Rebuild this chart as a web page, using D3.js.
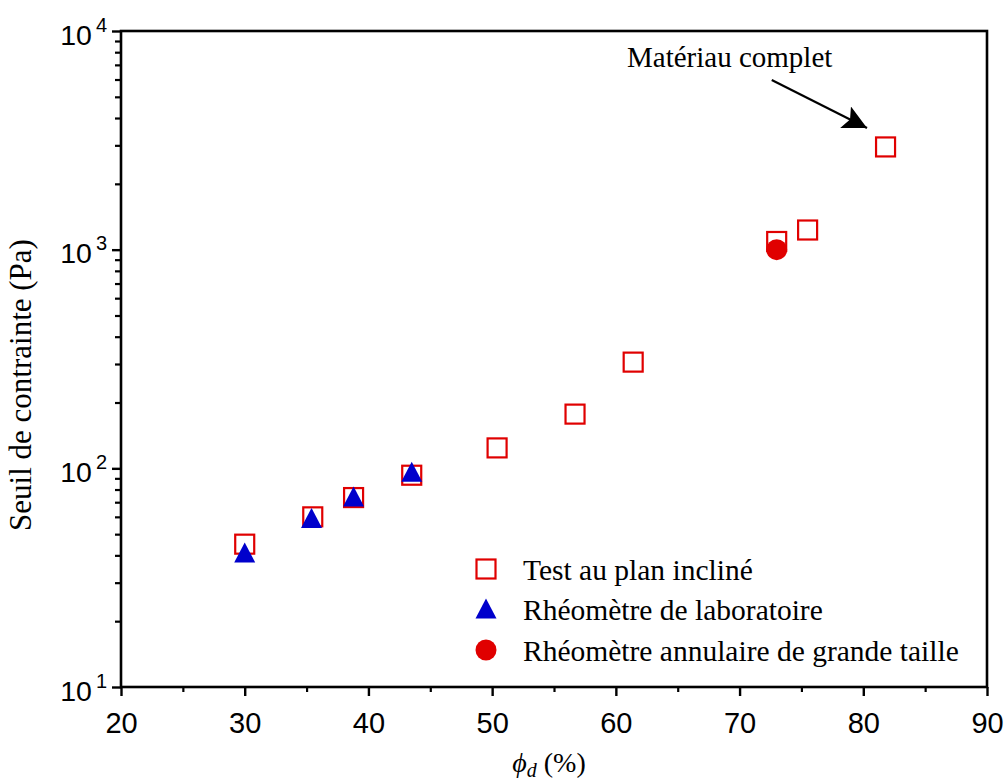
<!DOCTYPE html>
<html><head><meta charset="utf-8">
<script src="https://cdn.jsdelivr.net/npm/d3@7"></script>
<style>body{margin:0;background:#fff}</style>
</head><body>
<svg id="chart" width="1005" height="780"></svg>
<script>
// ---- data ----
const seriesNames = ["Test au plan incliné", "Rhéomètre de laboratoire", "Rhéomètre annulaire de grande taille"];
const planPhi = [30, 35.5, 38.8, 43.5, 50.4, 56.7, 61.4, 73, 75.5, 81.8];
const planTau = [45, 60, 73.5, 93, 124, 177, 306, 1090, 1230, 2950];
const laboPhi = [30, 35.4, 38.8, 43.5];
const laboTau = [41, 59, 74, 96];
const annPhi = [73];
const annTau = [1000];
const xTicks = [20, 30, 40, 50, 60, 70, 80, 90];
const xMinorTicks = [25, 35, 45, 55, 65, 75, 85];
const yTickExps = [1, 2, 3, 4];
const annotText = "Matériau complet";
const annotTextAt = [60.9, 6840];
const annotArrowFrom = [72.6, 5970];
const annotArrowTo = [80.3, 3600];
const yTitle = "Seuil de contrainte (Pa)";

// ---- layout ----
const L = 121, R = 987, T = 31, B = 687;
const svg = d3.select("#chart");
const x = d3.scaleLinear().domain([20, 90]).range([L, R]);
const y = d3.scaleLog().domain([10, 10000]).range([B, T]);

const red = "#e00000", blue = "#0000cc";
const sansFont = "Liberation Sans, Arial, sans-serif";
const serifFont = "Liberation Serif, Times New Roman, serif";

// frame
svg.append("rect").attr("x", L).attr("y", T).attr("width", R - L).attr("height", B - T)
  .attr("fill", "none").attr("stroke", "#000").attr("stroke-width", 2.6);

// y axis minor ticks
const yMinor = [];
for (let e = 1; e < 4; e++) for (let k = 2; k <= 9; k++) yMinor.push(k * Math.pow(10, e));
svg.append("g").attr("transform", `translate(${L},0)`)
  .call(d3.axisLeft(y).tickValues(yMinor).tickSize(6).tickFormat(""))
  .call(g => { g.select(".domain").remove(); g.selectAll("line").attr("stroke-width", 2.2); });

// y axis major ticks
const yMajor = yTickExps.map(e => Math.pow(10, e));
const yAx = svg.append("g").attr("transform", `translate(${L},0)`)
  .call(d3.axisLeft(y).tickValues(yMajor).tickSize(9).tickFormat(""))
  .call(g => { g.select(".domain").remove(); g.selectAll("line").attr("stroke-width", 2.4); });
yAx.selectAll(".tick").each(function(d, i) {
  const t = d3.select(this).append("text")
    .attr("x", -14).attr("y", 13).attr("text-anchor", "end")
    .attr("fill", "#000").attr("font-family", sansFont).attr("font-size", 28.5);
  t.append("tspan").text("10");
  t.append("tspan").attr("dx", 4).attr("dy", -13).attr("font-size", 20).text(String(yTickExps[i]));
});

// x axis minor ticks
svg.append("g").attr("transform", `translate(0,${B})`)
  .call(d3.axisBottom(x).tickValues(xMinorTicks).tickSize(5).tickFormat(""))
  .call(g => { g.select(".domain").remove(); g.selectAll("line").attr("stroke-width", 2.2); });
// x axis major ticks
svg.append("g").attr("transform", `translate(0,${B})`)
  .call(d3.axisBottom(x).tickValues(xTicks).tickSize(9).tickFormat(d3.format("d")).tickPadding(16))
  .call(g => {
    g.select(".domain").remove();
    g.selectAll("line").attr("stroke-width", 2.4);
    g.selectAll("text").attr("font-family", sansFont).attr("font-size", 29).attr("fill", "#000")
      .attr("dy", 0).attr("y", 46);
  });

// y title
svg.append("text")
  .attr("transform", `translate(31,${385}) rotate(-90)`)
  .attr("text-anchor", "middle").attr("font-family", serifFont).attr("font-size", 31)
  .attr("fill", "#000").text(yTitle);

// x title
const xt = svg.append("text").attr("x", 549).attr("y", 772).attr("text-anchor", "middle")
  .attr("font-family", serifFont).attr("font-size", 28).attr("fill", "#000");
xt.append("tspan").attr("font-style", "italic").text("\u03D5");
xt.append("tspan").attr("font-style", "italic").attr("font-size", 20).attr("dy", 5).text("d");
xt.append("tspan").attr("dy", -5).text(" (%)");

// data: squares
const sq = 19;
svg.append("g").selectAll("rect").data(planPhi.map((p, i) => [p, planTau[i]])).join("rect")
  .attr("x", d => x(d[0]) - sq / 2).attr("y", d => y(d[1]) - sq / 2)
  .attr("width", sq).attr("height", sq)
  .attr("fill", "none").attr("stroke", red).attr("stroke-width", 2.2);

// triangles
const tri = "M0,-10.5L10.5,9.5L-10.5,9.5Z";
svg.append("g").selectAll("path").data(laboPhi.map((p, i) => [p, laboTau[i]])).join("path")
  .attr("d", tri).attr("transform", d => `translate(${x(d[0])},${y(d[1])})`).attr("fill", blue);

// circles
svg.append("g").selectAll("circle").data(annPhi.map((p, i) => [p, annTau[i]])).join("circle")
  .attr("cx", d => x(d[0])).attr("cy", d => y(d[1])).attr("r", 10.5).attr("fill", red);

// legend
const legX = 486, legTextX = 523, legY = [569, 609, 650];
const lg = svg.append("g");
lg.append("rect").attr("x", legX - sq / 2).attr("y", legY[0] - sq / 2).attr("width", sq).attr("height", sq)
  .attr("fill", "none").attr("stroke", red).attr("stroke-width", 2.2);
lg.append("path").attr("d", tri).attr("transform", `translate(${legX},${legY[1]})`).attr("fill", blue);
lg.append("circle").attr("cx", legX).attr("cy", legY[2]).attr("r", 10.5).attr("fill", red);
lg.selectAll("text").data(seriesNames).join("text")
  .attr("x", legTextX).attr("y", (d, i) => legY[i] + 11)
  .attr("font-family", serifFont).attr("font-size", 29.5).attr("fill", "#000").text(d => d);

// annotation
svg.append("defs").append("marker").attr("id", "ah")
  .attr("markerUnits", "userSpaceOnUse").attr("markerWidth", 28).attr("markerHeight", 26)
  .attr("refX", 24).attr("refY", 12).attr("orient", "auto")
  .append("path").attr("d", "M0,0L24,12L0,24L5,12Z").attr("fill", "#000");
svg.append("line")
  .attr("x1", x(annotArrowFrom[0])).attr("y1", y(annotArrowFrom[1]))
  .attr("x2", x(annotArrowTo[0])).attr("y2", y(annotArrowTo[1]))
  .attr("stroke", "#000").attr("stroke-width", 2.2).attr("marker-end", "url(#ah)");
svg.append("text").attr("x", x(annotTextAt[0])).attr("y", y(annotTextAt[1]))
  .attr("font-family", serifFont).attr("font-size", 29).attr("fill", "#000").text(annotText);
</script>
</body></html>
